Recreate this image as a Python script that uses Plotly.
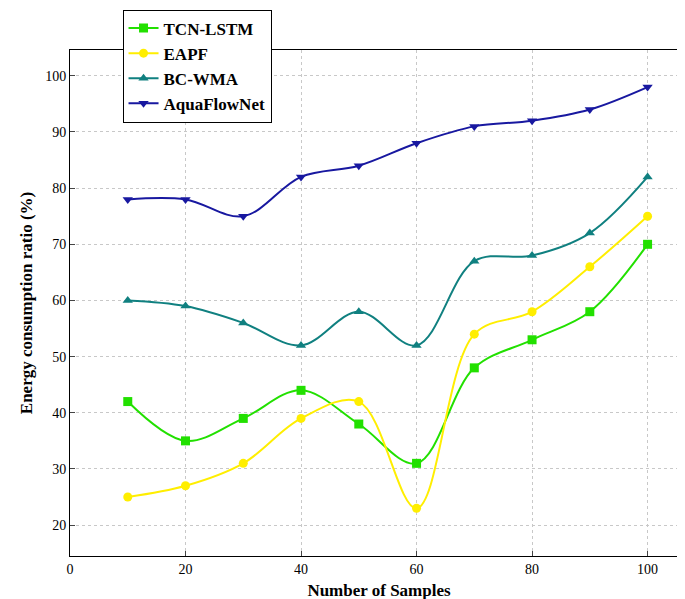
import plotly.graph_objects as go

samples = [10, 20, 30, 40, 50, 60, 70, 80, 90, 100]
tcn_lstm = [42, 35, 39, 44, 38, 31, 48, 53, 58, 70]
eapf = [25, 27, 31, 39, 42, 23, 54, 58, 66, 75]
bc_wma = [60, 59, 56, 52, 58, 52, 67, 68, 72, 82]
aquaflownet = [78, 78, 75, 82, 84, 88, 91, 92, 94, 98]

series = [
    ("TCN-LSTM", tcn_lstm, "#22e000", "square"),
    ("EAPF", eapf, "#ffee00", "circle"),
    ("BC-WMA", bc_wma, "#108080", "triangle-up"),
    ("AquaFlowNet", aquaflownet, "#1818a0", "triangle-down"),
]

fig = go.Figure()
for name, vals, color, sym in series:
    fig.add_trace(go.Scatter(x=samples, y=vals, name="<b>" + name + "</b>", mode='lines+markers',
                             line=dict(color=color, width=2, shape='spline', smoothing=1),
                             marker=dict(symbol=sym, size=9, color=color)))

fig.update_layout(
    width=685, height=599,
    plot_bgcolor='white', paper_bgcolor='white',
    margin=dict(l=62, r=5, t=42, b=51, autoexpand=False),
    font=dict(family="Liberation Serif", size=14, color='black'),
    legend=dict(x=0.085, y=1.08, xanchor='left', yanchor='top',
                bgcolor='white', bordercolor='black', borderwidth=1,
                font=dict(size=17, family="Liberation Serif")),
    xaxis=dict(title=dict(text="<b>Number of Samples</b>", font=dict(size=17), standoff=8),
               range=[0, 107], tickvals=[0, 20, 40, 60, 80, 100],
               showgrid=True, gridcolor='#c8c8c8', griddash='dot',
               showline=True, linecolor='black', mirror=True, ticks='inside'),
    yaxis=dict(title=dict(text="<b>Energy consumption ratio (%)</b>", font=dict(size=17), standoff=8),
               range=[14.5, 104.6], dtick=10,
               showgrid=True, gridcolor='#c8c8c8', griddash='dot',
               showline=True, linecolor='black', mirror=True, ticks='inside'),
)
fig.write_html("out.html")
